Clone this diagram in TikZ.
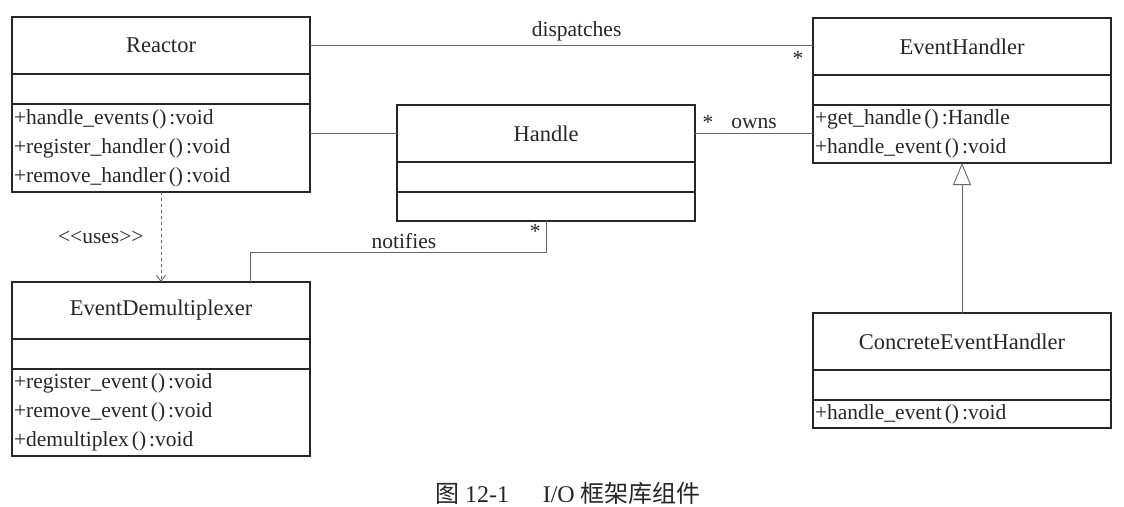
\documentclass[tikz,border=0pt]{standalone}
\usepackage{fontspec}
\setmainfont{Liberation Serif}
\newfontfamily\cjk{Noto Sans CJK SC}
\usetikzlibrary{arrows.meta,positioning}
\newcommand{\op}[2]{+#1\hspace{3pt}()\hspace{3pt}:#2}
\tikzset{
  classname/.style = {draw=black!85, line width=1.3pt, outer sep=0pt, inner sep=0pt,
    minimum width=298pt, minimum height=57pt, font=\fontsize{22.5}{24}\selectfont, text=black!85},
  classattr/.style = {draw=black!85, line width=1.3pt, outer sep=0pt, inner sep=0pt,
    minimum width=298pt, minimum height=30pt},
  classops/.style = {draw=black!85, line width=1.3pt, outer sep=0pt, inner xsep=2pt, inner ysep=0pt,
    text width=294pt, align=left, font=\fontsize{21.5}{29}\selectfont, text=black!85},
  assoc/.style = {draw=black!60, line width=0.9pt},
  mult/.style = {font=\fontsize{21.5}{21.5}\selectfont, text=black!85, inner sep=1pt}
}
\begin{document}
\begin{tikzpicture}[x=1pt,y=-1pt]
  \useasboundingbox (0,0) rectangle (1124,506);
  % classes
  \node [classname, anchor=north west] (reactor) at (12,17) {Reactor};
  \node [classattr, below=0pt of reactor] (reactorattr) {};
  \node [classops, below=0pt of reactorattr, minimum height=88pt] (reactorops)
    {\op{handle\_events}{void}\\\op{register\_handler}{void}\\\op{remove\_handler}{void}};

  \node [classname, anchor=north west] (handle) at (397,105) {Handle};
  \node [classattr, below=0pt of handle] (handleattr) {};
  \node [classattr, below=0pt of handleattr, minimum height=29pt] (handleops) {};

  \node [classname, anchor=north west] (evhandler) at (813,18) {EventHandler};
  \node [classattr, below=0pt of evhandler] (evhandlerattr) {};
  \node [classops, below=0pt of evhandlerattr, minimum height=58pt] (evhandlerops)
    {\op{get\_handle}{Handle}\\\op{handle\_event}{void}};

  \node [classname, anchor=north west] (demux) at (12,282) {EventDemultiplexer};
  \node [classattr, below=0pt of demux] (demuxattr) {};
  \node [classops, below=0pt of demuxattr, minimum height=87pt] (demuxops)
    {\op{register\_event}{void}\\\op{remove\_event}{void}\\\op{demultiplex}{void}};

  \node [classname, anchor=north west] (concrete) at (813,313) {ConcreteEventHandler};
  \node [classattr, below=0pt of concrete] (concreteattr) {};
  \node [classops, below=0pt of concreteattr, minimum height=28pt] (concreteops)
    {\op{handle\_event}{void}};

  % relations
  \draw [assoc] (reactor.east) -- (reactor.east -| evhandler.west)
    node [mult, pos=0.53, above=3pt] {dispatches}
    node [mult, pos=0.97, below=4pt] {*};
  \draw [assoc] (handle.west) -- (handle.west -| reactorops.east);
  \draw [assoc] (handle.east) -- (handle.east -| evhandlerops.west)
    node [mult, pos=0.11, above=3pt] {*}
    node [mult, pos=0.5, above=3pt] {owns};
  \draw [assoc, dashed, -{Straight Barb[length=6pt,width=9pt]}] (reactorops.south) -- (demux.north)
    node [mult, midway, left=16pt] {<{}<uses>{}>};
  \coordinate (knee) at (250,252);
  \draw [assoc] (handleops.south) |- (knee)
    node [mult, pos=0.17, left=4pt] {*}
    node [mult, pos=0.74, above=2pt] {notifies}
    -- (knee |- demux.north);
  \draw [assoc, -{Triangle[open,length=22pt,width=18pt]}] (concrete.north) -- (evhandlerops.south);

  \node [font=\fontsize{24}{24}\selectfont, text=black!85] (caption) at (568,493)
    {{\cjk 图} 12-1\hspace{1.4em}I/O {\cjk 框架库组件}};
\end{tikzpicture}
\end{document}
